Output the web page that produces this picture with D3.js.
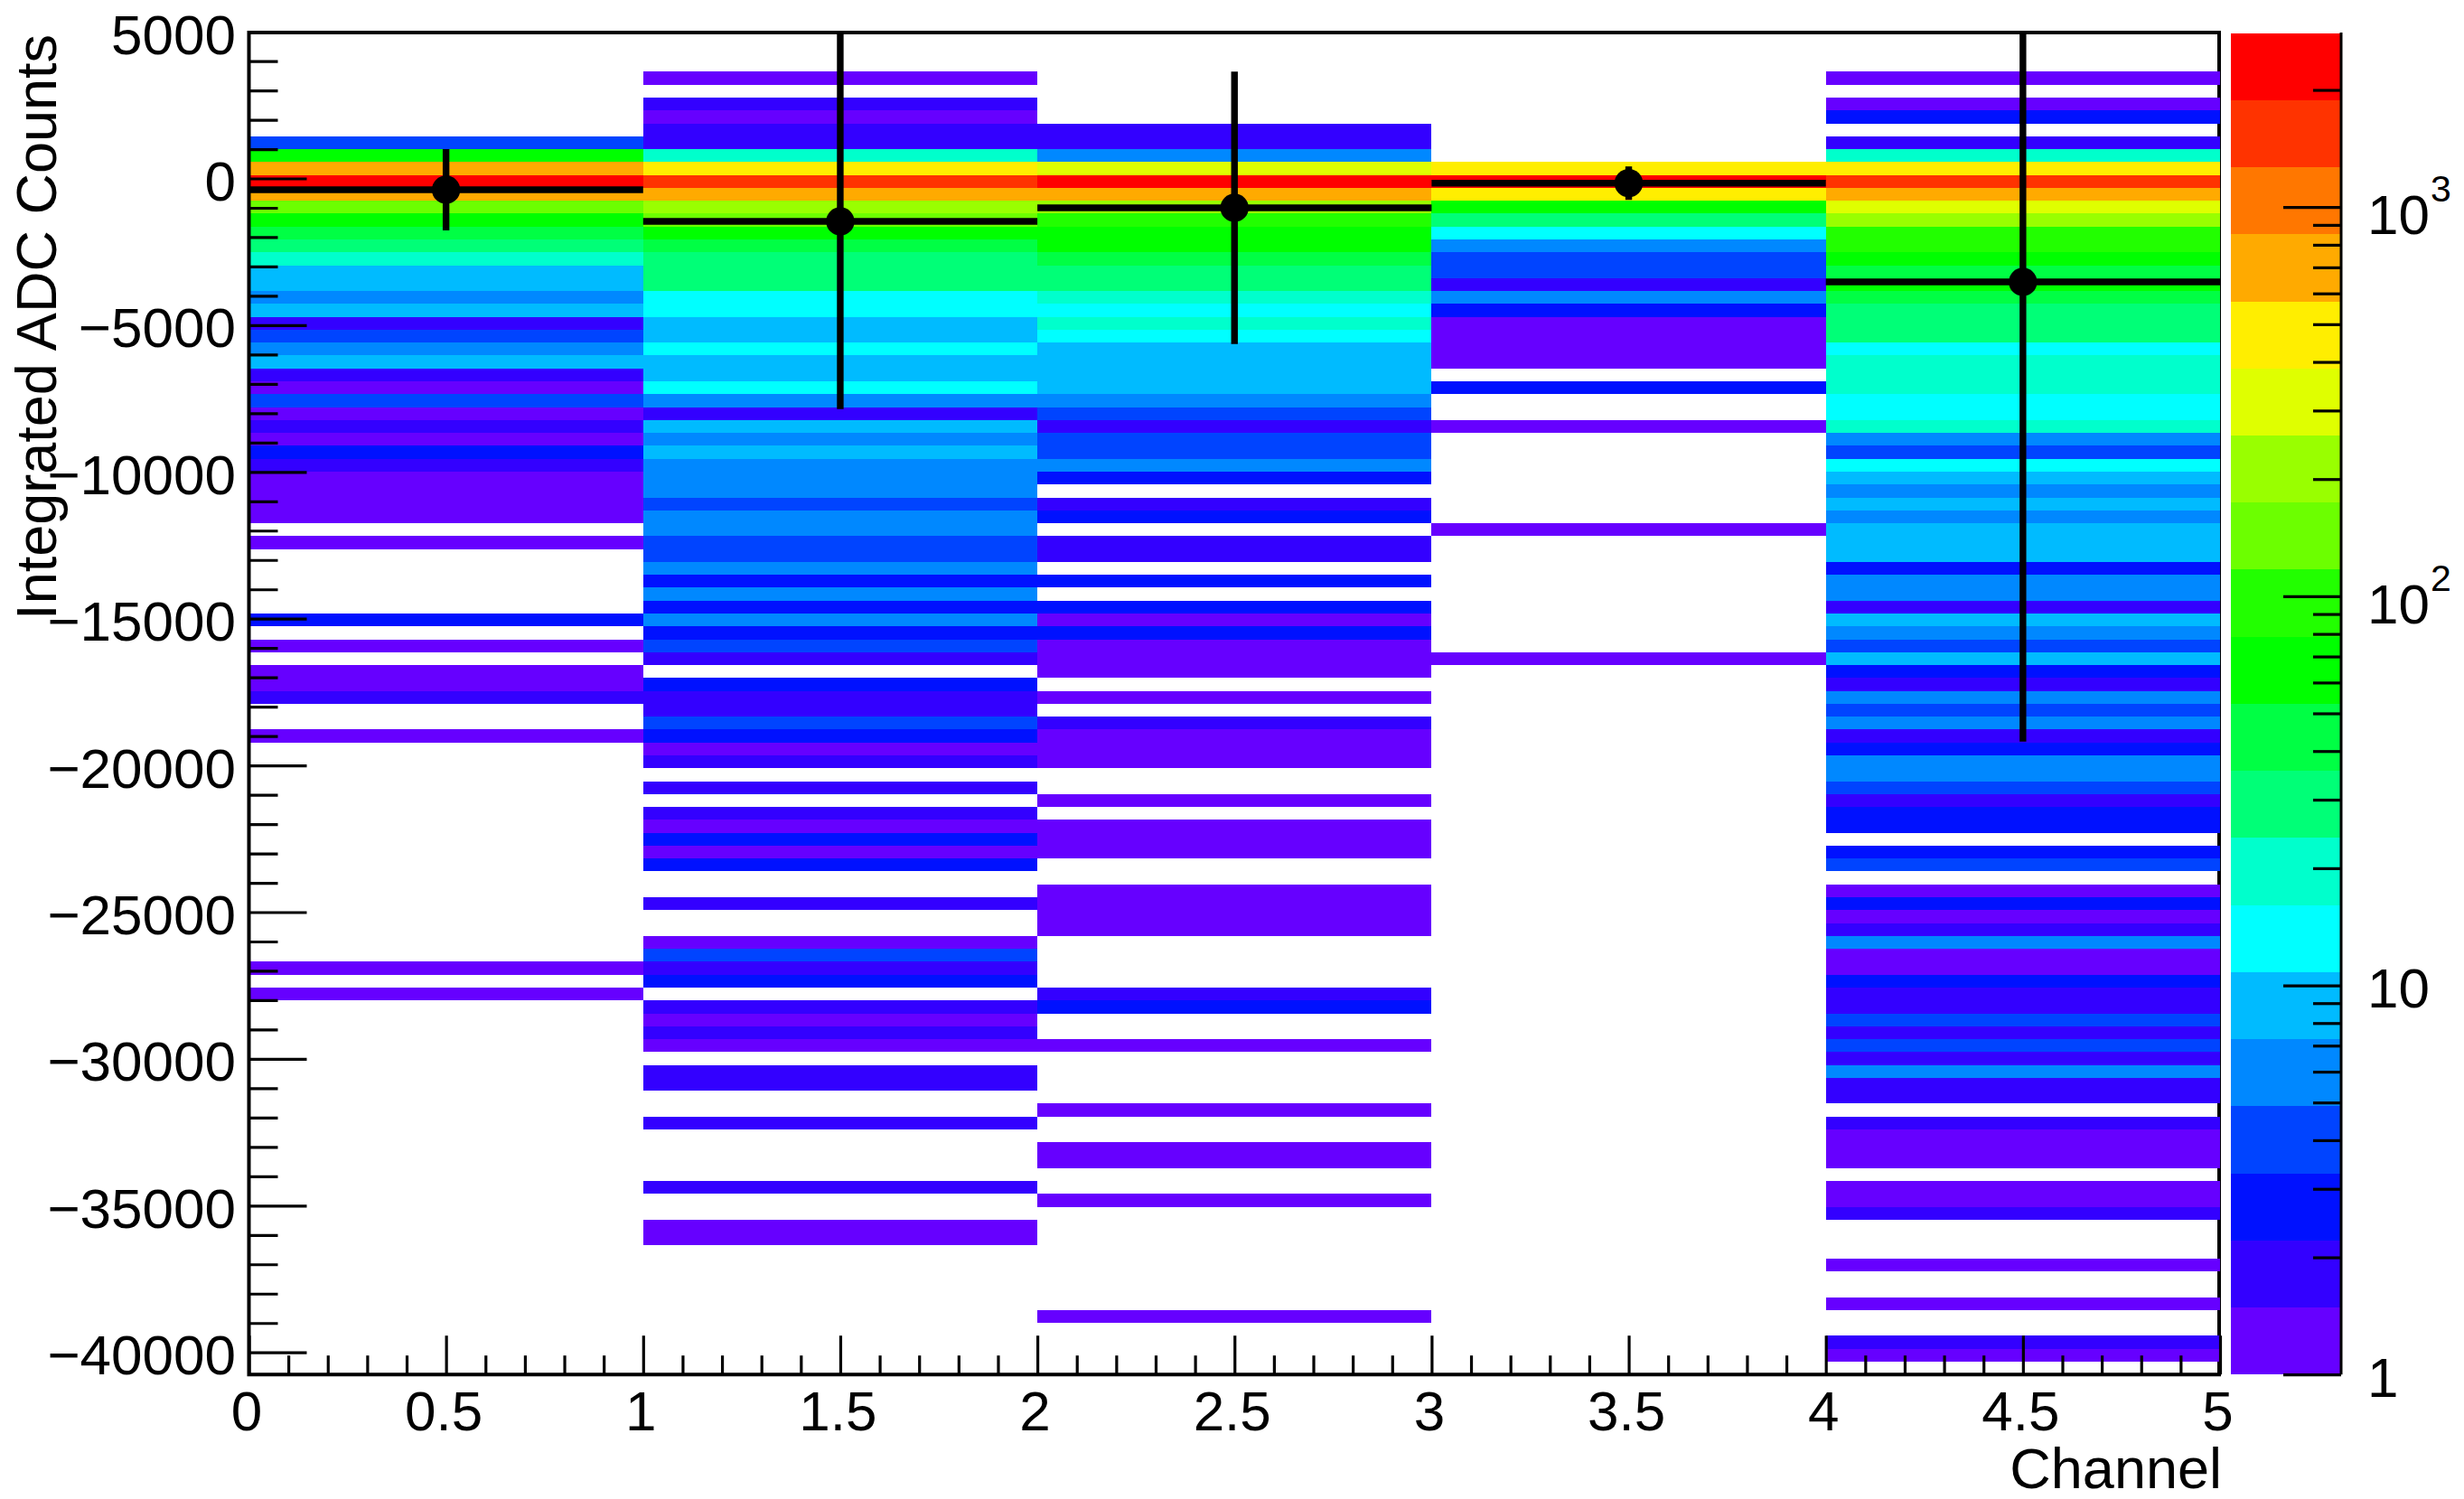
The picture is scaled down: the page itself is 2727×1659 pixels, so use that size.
<!DOCTYPE html>
<html><head><meta charset="utf-8">
<script src="https://cdn.jsdelivr.net/npm/d3@7"></script>
<style>html,body{margin:0;padding:0;background:#fff}svg{display:block}text{font-family:"Liberation Sans",Arial,sans-serif;fill:#000}</style>
</head><body><svg id="c" width="2727" height="1659"></svg>
<script>
// ---- data: per-channel counts in 104 ADC bins, top bin first ----
const ch0 = [0,0,0,0,0,0,0,0,4,65,
 700,2300,700,145,65,44,30,20,9,9,
 6,9,2,4,6,9,2,1,4,1,
 2,1,3,2,1,1,1,1,0,1,
 0,0,0,0,0,3,0,1,0,1,
 1,2,0,0,1,0,0,0,0,0,
 0,0,0,0,0,0,0,0,0,0,
 0,0,1,0,1,0,0,0,0,0,
 0,0,0,0,0,0,0,0,0,0,
 0,0,0,0,0,0,0,0,0,0,
 0,0,0,0];
const ch1 = [0,0,0,1,0,2,1,2,2,20,
 475,1550,700,215,145,65,44,30,30,30,
 13,13,9,9,13,9,9,13,6,2,
 9,6,9,6,6,6,4,6,6,4,
 4,6,3,6,3,6,3,4,2,0,
 3,2,2,4,3,1,2,0,2,0,
 2,1,3,1,3,0,0,2,0,0,
 1,4,2,3,0,2,1,2,1,0,
 2,2,0,0,2,0,0,0,0,2,
 0,0,1,1,0,0,0,0,0,0,
 0,0,0,0];
const ch2 = [0,0,0,0,0,0,0,2,2,6,
 320,2300,700,215,98,65,65,44,30,30,
 20,13,20,13,9,9,9,9,6,4,
 2,4,4,6,3,0,2,3,0,2,
 2,0,3,0,3,1,3,1,1,1,
 0,1,0,2,1,1,1,0,0,1,
 0,1,1,1,0,0,1,1,1,1,
 0,0,0,0,2,3,0,0,1,0,
 0,0,0,1,0,0,1,1,0,0,
 1,0,0,0,0,0,0,0,0,1,
 0,0,0,0];
const ch3 = [0,0,0,0,0,0,0,0,0,0,
 475,2300,475,65,30,13,6,4,4,2,
 6,3,1,1,1,1,0,3,0,0,
 1,0,0,0,0,0,0,0,1,0,
 0,0,0,0,0,0,0,0,1,0,
 0,0,0,0,0,0,0,0,0,0,
 0,0,0,0,0,0,0,0,0,0,
 0,0,0,0,0,0,0,0,0,0,
 0,0,0,0,0,0,0,0,0,0,
 0,0,0,0,0,0,0,0,0,0,
 0,0,0,0];
const ch4 = [0,0,0,1,0,1,3,0,2,20,
 475,1550,700,320,215,98,98,65,44,65,
 44,30,30,30,13,20,20,20,13,13,
 20,6,4,13,9,6,9,6,9,9,
 9,3,6,6,2,9,6,4,9,3,
 2,6,4,6,2,3,6,6,4,2,
 3,3,0,3,4,0,1,3,1,2,
 6,1,1,3,2,2,4,2,4,2,
 6,2,2,0,2,1,1,1,0,1,
 1,2,0,0,0,1,0,0,1,0,
 0,2,1,0];
const channels = [ch0, ch1, ch2, ch3, ch4];
const means = [-385, -1462, -1000, -160, -3525];
const errors = [1385, 6395, 4640, 570, 15662];
const centers = [0.5, 1.5, 2.5, 3.5, 4.5];
const xMajorTicks = [0,0.5,1,1.5,2,2.5,3,3.5,4,4.5,5];
const xMinorTicks = d3.range(0,51).map(d=>d/10).filter(d=>Math.round(d*10)%5!==0);
const yMajorTicks = [5000,0,-5000,-10000,-15000,-20000,-25000,-30000,-35000,-40000];
const yMinorTicks = d3.range(-40,6).map(d=>d*1000).filter(d=>d%5000!==0);
const zMajorTicks = [1,10,100,1000];
const zMinorTicks = [2,3,4,5,6,7,8,9,20,30,40,50,60,70,80,90,200,300,400,500,600,700,800,900,2000];
const palette = ["#6600ff","#3300ff","#0011ff","#0044ff","#0088ff","#00bbff","#00ffff","#00ffcc","#00ff77","#00ff44",
                 "#00ff00","#22ff00","#6cff00","#99ff00","#dfff00","#ffee00","#ffaa00","#ff7700","#ff3300","#ff0000"];
const yDomain = [-40754, 4954], xDomain = [0,5], zDomain = [1,2800];
const nBins = 104;

// ---- layout ----
const L=275.5,R=2457,T=36.6,B=1521.2, PL=2469,PR=2591;
const F=62, FT=63;
const svg=d3.select("#c");
const x=d3.scaleLinear().domain(xDomain).range([L,R]);
const y=d3.scaleLinear().domain(yDomain).range([B,T]);
const z=d3.scaleLog().domain(zDomain).range([B,T]);
const color=d3.scaleQuantize().domain([0,Math.log10(zDomain[1])]).range(palette);
const binH=(yDomain[1]-yDomain[0])/nBins;

svg.append("rect").attr("width",2727).attr("height",1659).attr("fill","#fff");
// top + right frame lie under the cells
svg.append("path").attr("d",`M${L},36H2456V${B}`).attr("fill","none").attr("stroke","#000").attr("stroke-width",4);

// cells
channels.forEach((vals,i)=>{
  svg.append("g").selectAll("rect").data(vals.map((v,k)=>({v,k})).filter(d=>d.v>0)).join("rect")
    .attr("x",x(i)).attr("width",x(i+1)-x(i))
    .attr("y",d=>y(yDomain[1]-d.k*binH)).attr("height",y(yDomain[1]-binH)-y(yDomain[1]))
    .attr("fill",d=>color(Math.log10(d.v))).attr("shape-rendering","crispEdges");
});

// palette
svg.append("g").selectAll("rect").data(palette).join("rect")
  .attr("x",PL).attr("width",PR-PL)
  .attr("y",c=>z(Math.pow(10,color.invertExtent(c)[1]))).attr("height",c=>{const e=color.invertExtent(c);return z(Math.pow(10,e[0]))-z(Math.pow(10,e[1]));})
  .attr("fill",c=>c).attr("shape-rendering","crispEdges");

// error bars and markers
const eb=svg.append("g").attr("stroke","#000").attr("stroke-width",7.4);
centers.forEach((c,i)=>{
  eb.append("line").attr("x1",x(c-0.5)).attr("x2",x(c+0.5)).attr("y1",y(means[i])).attr("y2",y(means[i]));
  eb.append("line").attr("x1",x(c)).attr("x2",x(c)).attr("y1",Math.max(38,y(means[i]+errors[i]))).attr("y2",y(means[i]-errors[i]));
});
svg.append("g").selectAll("circle").data(centers).join("circle")
  .attr("cx",d=>x(d)).attr("cy",(d,i)=>y(means[i])).attr("r",15.7).attr("fill","#000");

// axes
function style(g){g.select(".domain").remove();g.selectAll("line").attr("stroke","#000").attr("stroke-width",3.2);g.selectAll("text").remove();}
svg.append("g").attr("transform",`translate(${L},0)`).call(d3.axisRight(y).tickValues(yMajorTicks).tickSize(64).tickFormat("")).call(style);
svg.append("g").attr("transform",`translate(${L},0)`).call(d3.axisRight(y).tickValues(yMinorTicks).tickSize(32).tickFormat("")).call(style);
svg.append("g").attr("transform",`translate(0,${B})`).call(d3.axisTop(x).tickValues(xMajorTicks).tickSize(43).tickFormat("")).call(style);
svg.append("g").attr("transform",`translate(0,${B})`).call(d3.axisTop(x).tickValues(xMinorTicks).tickSize(21).tickFormat("")).call(style);
svg.append("g").attr("transform",`translate(${PR},0)`).call(d3.axisLeft(z).tickValues(zMajorTicks).tickSize(64).tickFormat("")).call(style);
svg.append("g").attr("transform",`translate(${PR},0)`).call(d3.axisLeft(z).tickValues(zMinorTicks).tickSize(31).tickFormat("")).call(style);
// left + bottom frame over the cells
svg.append("path").attr("d",`M${L},34V${B}H2458`).attr("fill","none").attr("stroke","#000").attr("stroke-width",4);
svg.append("line").attr("x1",PR).attr("x2",PR).attr("y1",36).attr("y2",B).attr("stroke","#000").attr("stroke-width",3);

// labels
const fmt=d3.format("d");
svg.append("g").selectAll("text").data(yMajorTicks).join("text")
  .attr("x",261).attr("y",d=>y(d)+24.5).attr("text-anchor","end").attr("font-size",F).text(d=>fmt(d));
svg.append("g").selectAll("text").data(xMajorTicks).join("text")
  .attr("x",d=>x(d)-2.5).attr("y",1583).attr("text-anchor","middle").attr("font-size",F).text(d=>d);
svg.append("text").attr("x",2459).attr("y",1647).attr("text-anchor","end").attr("font-size",FT).text("Channel");
svg.append("text").attr("transform","translate(62,38) rotate(-90)").attr("text-anchor","end").attr("font-size",FT).text("Integrated ADC Counts");
zMajorTicks.forEach(v=>{
  const e=Math.round(Math.log10(v));
  if(e<2){
    svg.append("text").attr("x",2620).attr("y",z(v)+(e==0?25:24)).attr("font-size",F).text(v);
  } else {
    svg.append("text").attr("x",2620).attr("y",z(v)+30).attr("font-size",F).text("10");
    svg.append("text").attr("x",2690).attr("y",z(v)-6).attr("font-size",41).text(e);
  }
});
</script></body></html>
